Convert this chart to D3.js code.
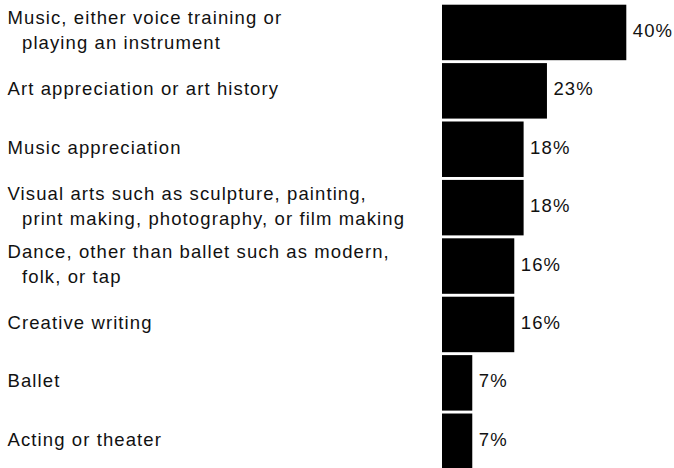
<!DOCTYPE html>
<html>
<head>
<meta charset="utf-8">
<script src="https://cdn.jsdelivr.net/npm/d3@7"></script>
<style>
  html, body { margin: 0; padding: 0; background: #fff; }
  svg { display: block; }
  text { font-family: "Liberation Sans", Arial, Helvetica, sans-serif; font-size: 18.5px; letter-spacing: 1.1px; fill: #111; }
</style>
</head>
<body>
<script>
// Data
const categories = [
  "Music, either voice training or|playing an instrument",
  "Art appreciation or art history",
  "Music appreciation",
  "Visual arts such as sculpture, painting,|print making, photography, or film making",
  "Dance, other than ballet such as modern,|folk, or tap",
  "Creative writing",
  "Ballet",
  "Acting or theater"
];
const values = [40, 23, 18, 18, 16, 16, 7, 7];
const valueLabels = ["40%", "23%", "18%", "18%", "16%", "16%", "7%", "7%"];

const W = 674, H = 468;
const svg = d3.select("body").append("svg").attr("width", W).attr("height", H);

const x = d3.scaleLinear().domain([0, 40]).range([439.6, 626.3]);
const y = d3.scaleBand().domain(categories).range([4.7, 469]).paddingInner(0.05).paddingOuter(0);

const rows = categories.map((c, i) => ({ cat: c, v: values[i], lab: valueLabels[i] }));
const barInset = 2.4;

svg.selectAll("rect.bar").data(rows).join("rect")
  .attr("class", "bar")
  .attr("x", x(0) + barInset)
  .attr("y", d => y(d.cat))
  .attr("width", d => x(d.v) - x(0) - barInset)
  .attr("height", y.bandwidth())
  .attr("fill", "#000");

svg.selectAll("text.val").data(rows).join("text")
  .attr("class", "val")
  .attr("x", d => x(d.v) + 6.5)
  .attr("y", d => y(d.cat) + y.bandwidth() / 2 + 4.5)
  .text(d => d.lab);

const lineH = 25;
const labelG = svg.selectAll("text.cat").data(rows).join("text")
  .attr("class", "cat")
  .attr("y", d => {
    const n = d.cat.split("|").length;
    return y(d.cat) + y.bandwidth() / 2 + 4.5 - (n - 1) * lineH / 2;
  });
labelG.each(function(d) {
  const parts = d.cat.split("|");
  const t = d3.select(this);
  parts.forEach((p, i) => {
    t.append("tspan")
      .attr("x", i === 0 ? 7.5 : 22)
      .attr("dy", i === 0 ? 0 : lineH)
      .text(p);
  });
});
</script>
</body>
</html>
